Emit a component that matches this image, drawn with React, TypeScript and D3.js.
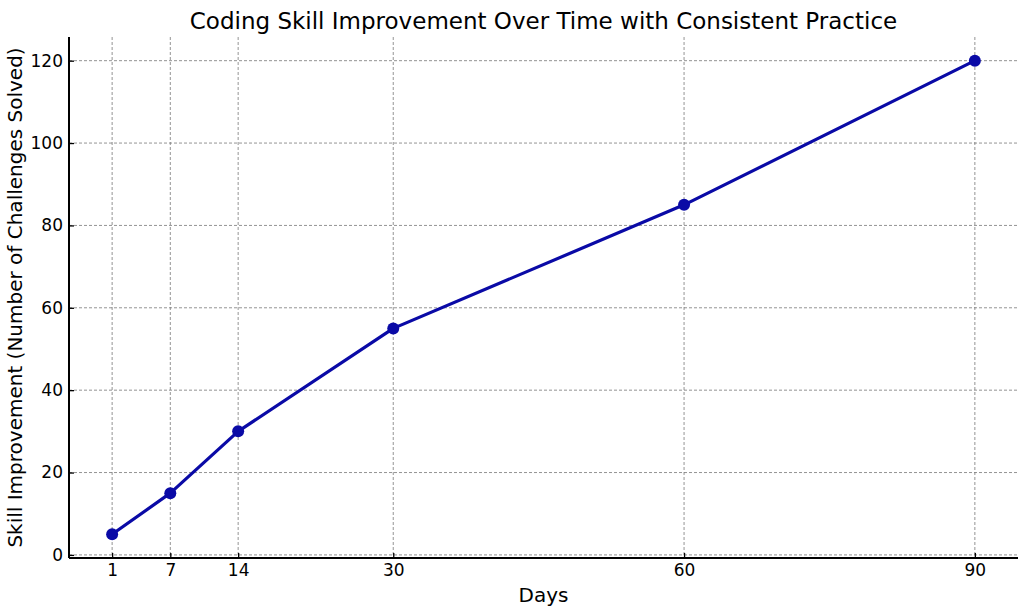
import { useRef, useEffect } from "react";
import * as d3 from "d3";

const days = [1, 7, 14, 30, 60, 90];
const solved = [5, 15, 30, 55, 85, 120];
const yTicks = [0, 20, 40, 60, 80, 100, 120];

const WIDTH = 1024;
const HEIGHT = 614;
const FONT = '"DejaVu Sans", sans-serif';
const BLUE = "#0a0aa6";

export default function App() {
  const svgRef = useRef<SVGSVGElement>(null);

  useEffect(() => {
    if (!svgRef.current) return;
    const margin = { top: 37, right: 6, bottom: 56, left: 69 };
    const innerW = WIDTH - margin.left - margin.right;
    const innerH = HEIGHT - margin.top - margin.bottom;

    const svg = d3.select(svgRef.current);
    svg.selectAll("*").remove();
    svg.attr("viewBox", `0 0 ${WIDTH} ${HEIGHT}`);

    svg.append("rect").attr("width", WIDTH).attr("height", HEIGHT).attr("fill", "#fff");

    // matplotlib-style 5% padding on both axes
    const x = d3.scaleLinear().domain([1 - 89 * 0.05, 90 + 89 * 0.05]).range([0, innerW]);
    const y = d3.scaleLinear().domain([5 - 115 * 0.05, 120 + 115 * 0.05]).range([innerH, 0]);

    const g = svg.append("g").attr("transform", `translate(${margin.left},${margin.top})`);

    // grid
    g.selectAll(".vgrid")
      .data(days)
      .join("line")
      .attr("x1", (d) => x(d))
      .attr("x2", (d) => x(d))
      .attr("y1", 0)
      .attr("y2", innerH)
      .attr("stroke", "#777")
      .attr("stroke-width", 0.8)
      .attr("stroke-dasharray", "3,2");

    g.selectAll(".hgrid")
      .data(yTicks)
      .join("line")
      .attr("x1", 0)
      .attr("x2", innerW)
      .attr("y1", (d) => y(d))
      .attr("y2", (d) => y(d))
      .attr("stroke", "#777")
      .attr("stroke-width", 0.8)
      .attr("stroke-dasharray", "3,2");

    // axes (left + bottom spines only), ticks pointing inward
    const xAxis = g.append("g")
      .attr("transform", `translate(0,${innerH})`)
      .call(d3.axisBottom(x).tickValues(days).tickSize(-5).tickPadding(6).tickFormat(d3.format("d")));
    const yAxis = g.append("g")
      .call(d3.axisLeft(y).tickValues(yTicks).tickSize(-5).tickPadding(6).tickFormat(d3.format("d")));

    [xAxis, yAxis].forEach((ax) => {
      ax.select(".domain").remove();
      ax.selectAll(".tick line").attr("stroke", "#000").attr("stroke-width", 1.3);
      ax.selectAll(".tick text")
        .attr("fill", "#000")
        .style("font-family", FONT)
        .style("font-size", "17px");
    });
    g.append("line")
      .attr("x1", 0).attr("x2", 0).attr("y1", 0).attr("y2", innerH)
      .attr("stroke", "#000").attr("stroke-width", 2);
    g.append("line")
      .attr("x1", 0).attr("x2", innerW).attr("y1", innerH).attr("y2", innerH)
      .attr("stroke", "#000").attr("stroke-width", 2);

    // series
    const pts = days.map((d, i) => [d, solved[i]] as [number, number]);
    const line = d3.line<[number, number]>().x((d) => x(d[0])).y((d) => y(d[1]));
    g.append("path")
      .datum(pts)
      .attr("d", line)
      .attr("fill", "none")
      .attr("stroke", BLUE)
      .attr("stroke-width", 3.2)
      .attr("stroke-linejoin", "round");

    g.selectAll(".dot")
      .data(pts)
      .join("circle")
      .attr("cx", (d) => x(d[0]))
      .attr("cy", (d) => y(d[1]))
      .attr("r", 6)
      .attr("fill", BLUE);

    // title and labels
    svg.append("text")
      .attr("x", margin.left + innerW / 2)
      .attr("y", 29)
      .attr("text-anchor", "middle")
      .attr("fill", "#000")
      .style("font-family", FONT)
      .style("font-size", "23px")
      .text("Coding Skill Improvement Over Time with Consistent Practice");

    svg.append("text")
      .attr("x", margin.left + innerW / 2)
      .attr("y", 602)
      .attr("text-anchor", "middle")
      .attr("fill", "#000")
      .style("font-family", FONT)
      .style("font-size", "20px")
      .text("Days");

    svg.append("text")
      .attr("transform", `translate(22,${margin.top + innerH / 2}) rotate(-90)`)
      .attr("text-anchor", "middle")
      .attr("fill", "#000")
      .style("font-family", FONT)
      .style("font-size", "20px")
      .text("Skill Improvement (Number of Challenges Solved)");
  }, []);

  return (
    <svg
      ref={svgRef}
      width={WIDTH}
      height={HEIGHT}
      style={{ position: "absolute", left: 0, top: 0, display: "block" }}
    />
  );
}
